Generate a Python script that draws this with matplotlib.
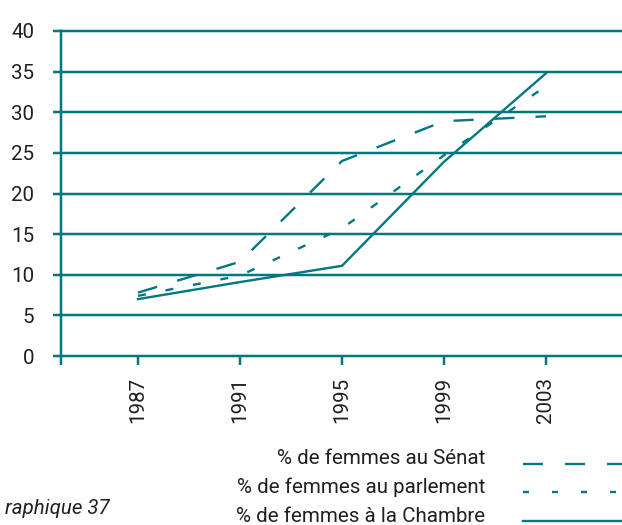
import matplotlib
matplotlib.use("Agg")
import matplotlib.pyplot as plt
from matplotlib.lines import Line2D

plt.rcParams['font.family'] = ['Roboto', 'DejaVu Sans']

years = ["1987", "1991", "1995", "1999", "2003"]
senat = [7.8, 11.6, 24.0, 28.9, 29.5]
parlement = [7.4, 9.9, 15.7, 24.7, 33.2]
chambre = [7.0, 9.1, 11.1, 23.9, 34.8]
labels = ["% de femmes au Sénat", "% de femmes au parlement", "% de femmes à la Chambre"]
yticks = [0, 5, 10, 15, 20, 25, 30, 35, 40]
caption = "raphique 37"  # visible part of the (cropped) caption in the reference

TEAL = "#007880"
TXT = "#231f20"
FS = 14.8
W, H = 622, 525
fig = plt.figure(figsize=(W / 100, H / 100), dpi=100)
ax = fig.add_axes([61 / W, 1 - 356 / H, (623 - 61) / W, (356 - 31) / H])

x = list(range(len(years)))
px = 72 / 100  # points per pixel
lw = 1.7
u = lw / px  # pixels per linewidth unit
ax.plot(x, senat, color=TEAL, lw=lw, dashes=(20 / u, 21 / u), zorder=3)
ax.plot(x, parlement, color=TEAL, lw=lw, dashes=(8 / u, 20 / u), zorder=3)
ax.plot(x, chambre, color=TEAL, lw=lw, zorder=3)

ax.set_xlim(-0.755, 4.755)
ax.set_ylim(0, 40)
ax.set_yticks(yticks)
ax.set_yticklabels([str(v) for v in yticks])
for v in yticks:
    ax.axhline(v, color=TEAL, lw=2.5 * px, zorder=1, clip_on=False)
ax.set_xticks(x)
ax.set_xticklabels(years, rotation=90)
ax.set_xticks([-0.755], minor=True)

for s in ["top", "right", "bottom"]:
    ax.spines[s].set_visible(False)
ax.spines["left"].set_color(TEAL)
ax.spines["left"].set_linewidth(2.5 * px)

ax.tick_params(axis="y", direction="out", length=8 * px, width=2.5 * px, color=TEAL,
               pad=19 * px, labelsize=FS, labelcolor=TXT)
ax.tick_params(axis="x", which="both", direction="out", length=9 * px, width=2.5 * px,
               color=TEAL, pad=12 * px, labelsize=FS, labelcolor=TXT)

# legend drawn manually
ly = [464, 492, 521]
ty = [459, 487, 516]
styles = [(20 / u, 22 / u), (6 / u, 23 / u), None]
for lab, yl, yt, st in zip(labels, ly, ty, styles):
    fig.text(485 / W, 1 - yt / H, lab, ha="right", va="center", fontsize=FS, color=TXT)
    kw = dict(color=TEAL, lw=lw, transform=fig.transFigure)
    if st is not None:
        kw["dashes"] = st
    fig.add_artist(Line2D([523 / W, 1.0], [1 - yl / H, 1 - yl / H], **kw))

fig.text(110 / W, 1 - 509 / H, caption, ha="right", va="center", fontsize=FS,
         style="italic", color=TXT)

fig.savefig("out.png", dpi=100)
